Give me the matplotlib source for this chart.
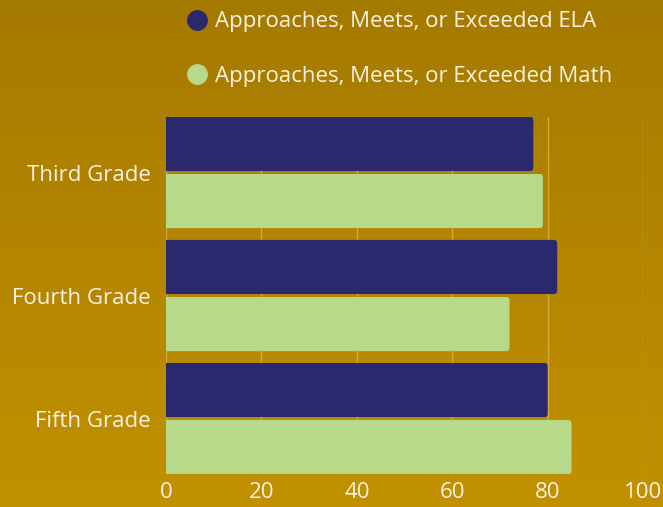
import numpy as np
import matplotlib
matplotlib.use('Agg')
import matplotlib.pyplot as plt
from matplotlib.patches import FancyBboxPatch
from matplotlib.lines import Line2D

grades = ['Third Grade', 'Fourth Grade', 'Fifth Grade']
ela = [77, 82, 80]
math = [79, 72, 85]
xticks = [0, 20, 40, 60, 80, 100]

NAVY = '#2b296e'
GREEN = '#b7d98a'
TXT = '#f7f1e1'

plt.rcParams['font.family'] = ['Open Sans', 'DejaVu Sans']

fig = plt.figure(figsize=(6.63, 5.07), dpi=100)

# gradient background
bg = fig.add_axes([0, 0, 1, 1], zorder=0)
top = np.array([165, 122, 0]) / 255
bot = np.array([194, 145, 0]) / 255
t = np.linspace(0, 1, 256)[:, None]
grad = top[None, :] * (1 - t) + bot[None, :] * t
bg.imshow(grad[:, None, :], aspect='auto', extent=[0, 1, 0, 1])
bg.axis('off')

ax = fig.add_axes([0.2504, 0.065, 0.7195, 0.7042], zorder=1)
ax.patch.set_alpha(0)

y = np.arange(len(grades))
h = 0.44
off = 0.232
b1 = ax.barh(y - off, ela, height=h, color=NAVY)
b2 = ax.barh(y + off, math, height=h, color=GREEN)

# rounded ends
asp = (1 / 123) / (1 / 4.77)
for bars, col in [(b1, NAVY), (b2, GREEN)]:
    for r in bars:
        r.set_visible(False)
        p = FancyBboxPatch((r.get_x() - 3, r.get_y()), r.get_width() + 3, r.get_height(),
                           boxstyle='round,pad=0,rounding_size=0.7', mutation_aspect=asp,
                           facecolor=col, edgecolor='none', zorder=2)
        ax.add_patch(p)

ax.set_xlim(0, 100)
ax.set_ylim(2.451, -0.451)
ax.set_xticks(xticks)
ax.set_yticks(y)
ax.set_yticklabels(grades)
ax.grid(axis='x', color='#cfa83e', linewidth=1, zorder=0)
ax.set_axisbelow(True)
for s in ax.spines.values():
    s.set_visible(False)
ax.tick_params(length=0, colors=TXT, labelsize=16)
ax.tick_params(axis='y', pad=11)
ax.tick_params(axis='x', pad=6)

handles = [Line2D([], [], marker='o', linestyle='none', markersize=14, color=NAVY),
           Line2D([], [], marker='o', linestyle='none', markersize=14, color=GREEN)]
leg = fig.legend(handles, ['Approaches, Meets, or Exceeded ELA', 'Approaches, Meets, or Exceeded Math'],
                 loc='upper left', bbox_to_anchor=(0.247, 1.017), frameon=False, fontsize=16,
                 labelspacing=1.5, handletextpad=0.2, handlelength=1.2)
for tx in leg.get_texts():
    tx.set_color(TXT)

fig.savefig('out.png', dpi=100)
